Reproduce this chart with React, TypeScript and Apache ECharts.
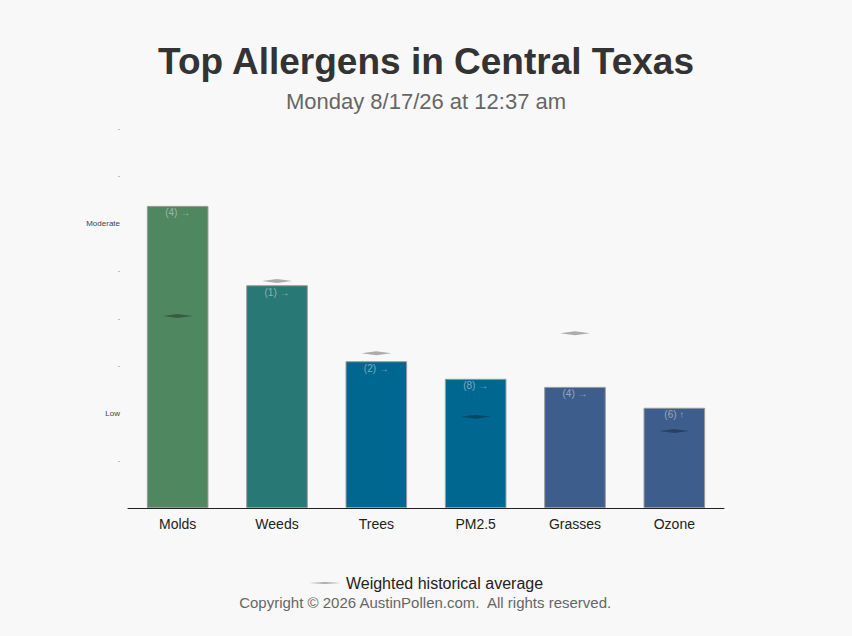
import React, { useEffect, useRef } from "react";
import * as echarts from "echarts";

const categories = ["Molds", "Weeds", "Trees", "PM2.5", "Grasses", "Ozone"];
const levels = [6.36, 4.69, 3.09, 2.72, 2.55, 2.11];
const averages = [4.04, 4.78, 3.26, 1.92, 3.68, 1.62];
const counts = [4, 1, 2, 8, 4, 6];
const trends = ["→", "→", "→", "→", "→", "↑"];
const barColors = ["#4e8760", "#287876", "#006790", "#006790", "#3d5e8c", "#3d5e8c"];
const yTickLabels = ["", "-", "Low", "-", "-", "-", "Moderate", "-", "-"];

export default function App() {
  const ref = useRef<HTMLDivElement>(null);
  useEffect(() => {
    document.body.style.margin = "0";
    document.body.style.background = "#f8f8f8";
    if (!ref.current) return;
    const chart = echarts.init(ref.current, null, { renderer: "svg" });
    chart.setOption({
      animation: false,
      backgroundColor: "#f8f8f8",
      title: {
        text: "Top Allergens in Central Texas",
        subtext: "Monday 8/17/26 at 12:37 am",
        left: "center",
        top: 38,
        itemGap: 10,
        textStyle: { fontFamily: "Liberation Sans, Arial, sans-serif", fontSize: 37, fontWeight: "bold", color: "#333" },
        subtextStyle: { fontFamily: "Liberation Sans, Arial, sans-serif", fontSize: 22, color: "#666" },
      },
      grid: { left: 128, right: 128, top: 128, bottom: 128 },
      xAxis: {
        type: "category",
        data: categories,
        axisLine: { lineStyle: { color: "#222", width: 1 } },
        axisTick: { show: false },
        axisLabel: { color: "#222", fontSize: 14, fontFamily: "Liberation Sans, Arial, sans-serif", margin: 9 },
      },
      yAxis: {
        type: "value",
        min: 0,
        max: 8,
        interval: 1,
        splitLine: { show: false },
        axisLine: { show: false },
        axisTick: { show: false },
        axisLabel: {
          fontFamily: "Liberation Sans, Arial, sans-serif",
          margin: 8,
          formatter: (v: number) => {
            const s = yTickLabels[Math.round(v)] || "";
            return s === "-" ? "{d|-}" : s ? "{t|" + s + "}" : "";
          },
          rich: {
            t: { fontSize: 8, color: "#444" },
            d: { fontSize: 7, color: "#888" },
          },
        },
      },
      legend: {
        bottom: 40,
        left: "center",
        data: [{ name: "Weighted historical average", icon: "path://M0,5 L16,4 L32,5 L16,6 Z" }],
        itemWidth: 32,
        itemHeight: 4,
        itemGap: 6,
        textStyle: { fontSize: 16, color: "#222", fontFamily: "Liberation Sans, Arial, sans-serif" },
      },
      graphic: [
        {
          type: "text",
          left: "center",
          top: 595,
          style: {
            text: "Copyright © 2026 AustinPollen.com.  All rights reserved.",
            fontSize: 15,
            fill: "#666",
            fontFamily: "Liberation Sans, Arial, sans-serif",
          },
        },
      ],
      series: [
        {
          type: "bar",
          name: "Level",
          barWidth: "62%",
          data: levels.map((v, i) => ({
            value: v,
            itemStyle: { color: barColors[i], borderColor: "#999", borderWidth: 1 },
          })),
          label: {
            show: true,
            position: "insideTop",
            distance: 2,
            fontSize: 10,
            color: "rgba(225,225,225,0.55)",
            fontFamily: "Liberation Sans, Arial, sans-serif",
            formatter: (p: any) => "(" + counts[p.dataIndex] + ") " + trends[p.dataIndex],
          },
        },
        {
          type: "scatter",
          name: "Weighted historical average",
          symbol: "diamond",
          symbolSize: [30, 4],
          itemStyle: { color: "rgba(0,0,0,0.38)" },
          data: averages,
          z: 5,
        },
      ],
    });
    return () => chart.dispose();
  }, []);
  return <div ref={ref} style={{ width: 852, height: 636 }} />;
}
